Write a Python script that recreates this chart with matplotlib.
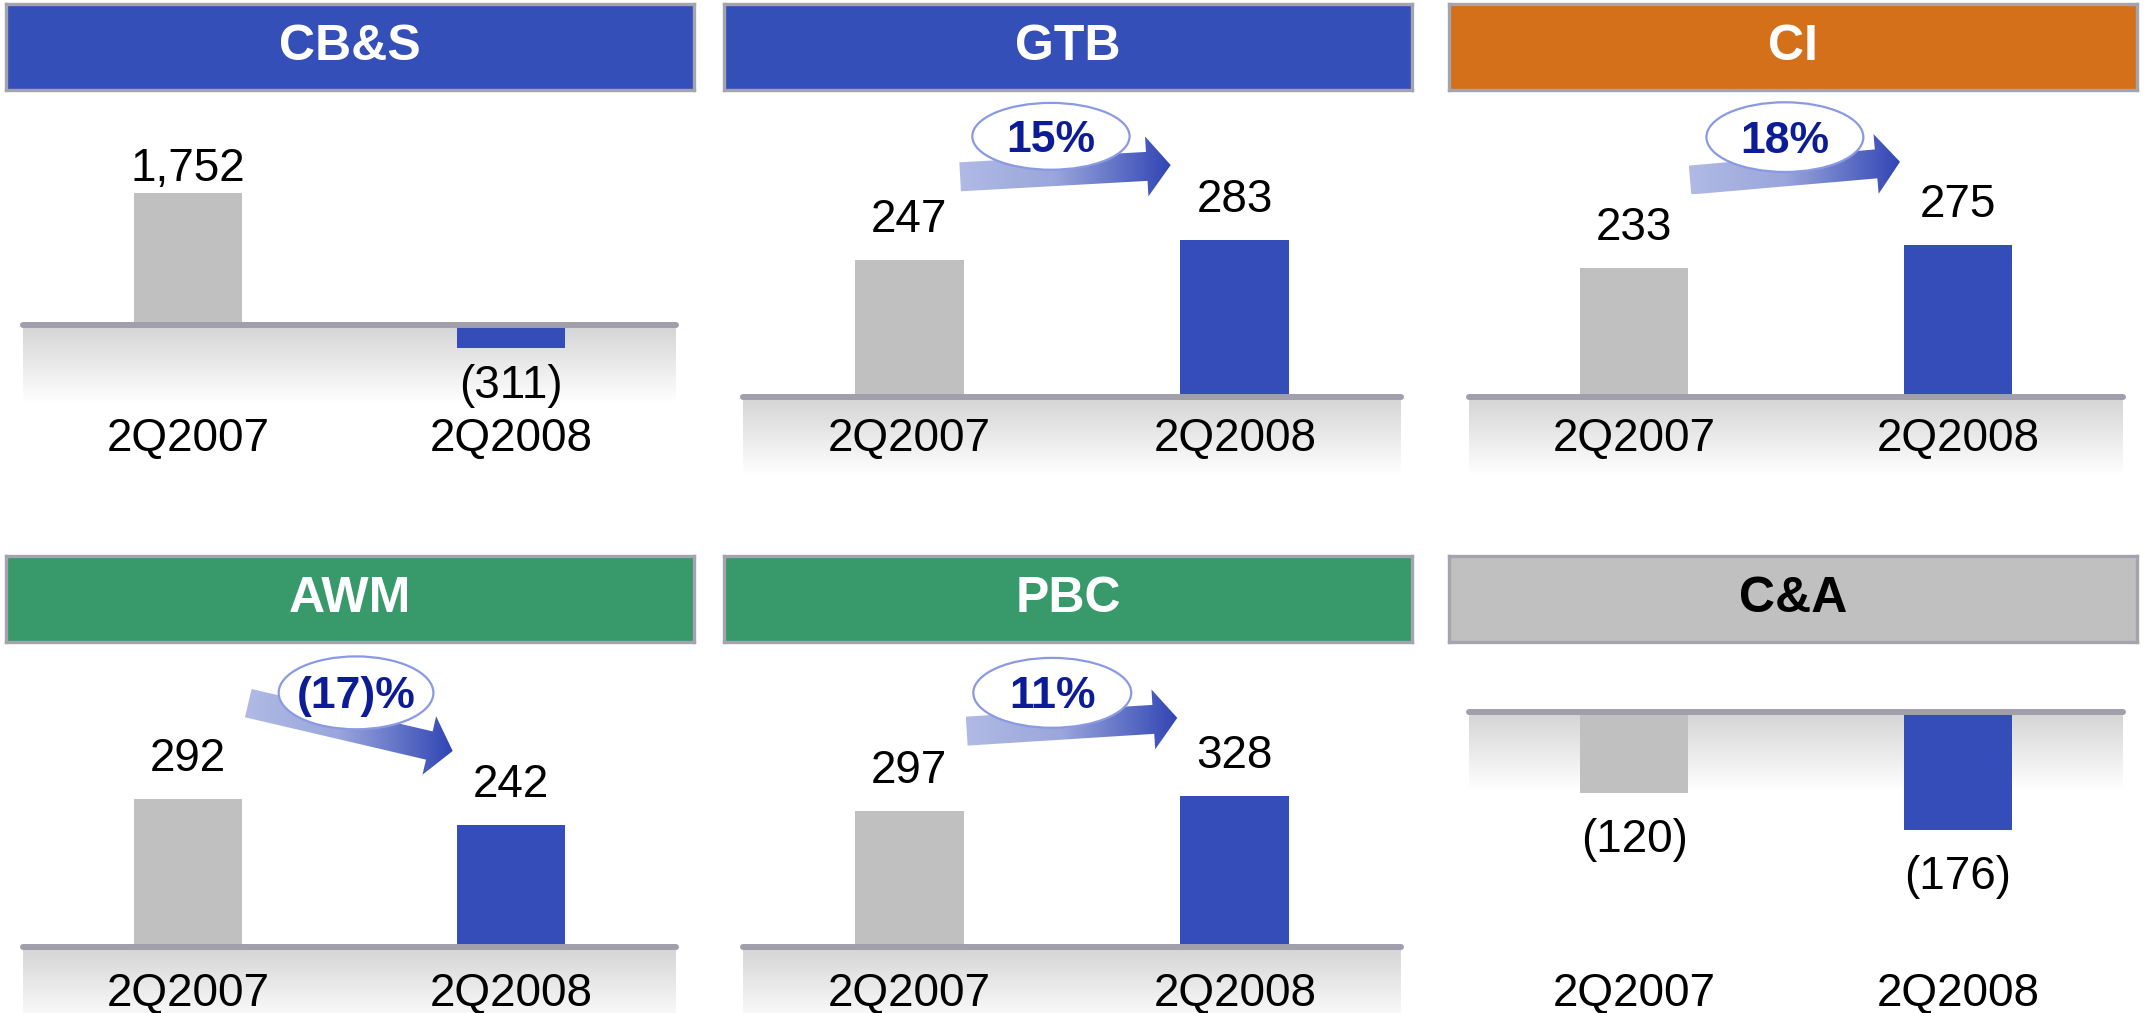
import matplotlib
matplotlib.use("Agg")
from matplotlib import pyplot as plt
from matplotlib.patches import Polygon, Ellipse
from matplotlib.colors import LinearSegmentedColormap
import matplotlib.transforms as mtransforms
import numpy as np

plt.rcParams['font.family'] = ['Liberation Sans', 'DejaVu Sans']

# income before taxes by segment, 2Q2007 vs 2Q2008
segments = ["CB&S", "GTB", "CI", "AWM", "PBC", "C&A"]
quarters = ["2Q2007", "2Q2008"]
q2_2007 = [1752, 247, 233, 292, 297, -120]
q2_2008 = [-311, 283, 275, 242, 328, -176]
changes = [None, "15%", "18%", "(17)%", "11%", None]

# colours
head_colors = ["#354FB9", "#354FB9", "#D4701A", "#389A6A", "#389A6A", "#C0C0C0"]
head_text = ["white", "white", "white", "white", "white", "black"]
bar_colors = ["#C0C0C0", "#344DB8"]
line_color = "#A09FAB"
pct_color = "#0C1C96"

# layout, in pixels of the 2149x1013 figure
W, H = 2149, 1013
col_x = [23, 743, 1469]
col_w = [653, 658, 654]
title_x = [6, 724, 1449]
title_w = 688
title_y = [4, 556]
title_h = 86
row_top = [95, 645]
row_bot = [500, 1013]
baseline_px = [325, 397, 397, 947, 947, 712]
px_per_unit = [0.0755, 0.555, 0.553, 0.506, 0.459, 0.672]
cat_px = [451, 1006]
pos_gap = [12, 28, 28, 28, 28, 28]
neg_gap = [50, 50, 50, 50, 50, 59]
# arrows in axes fraction: tail, tip, ellipse centre, ellipse size
arrows = {
    1: ((0.330, 0.798), (0.650, 0.827), (0.468, 0.898), (0.239, 0.165)),
    2: ((0.338, 0.790), (0.659, 0.835), (0.483, 0.896), (0.240, 0.172)),
    3: ((0.345, 0.842), (0.658, 0.712), (0.510, 0.870), (0.237, 0.198)),
    4: ((0.340, 0.766), (0.660, 0.802), (0.470, 0.870), (0.240, 0.190)),
}

XLO, XHI = -0.51, 1.51
BAR_W = 0.335
NUM_SIZE = 33

fade = LinearSegmentedColormap.from_list("fade", ["#D4D4D4", "#FFFFFF"])
arrow_cmap = LinearSegmentedColormap.from_list(
    "arr", [(0, "#B0BAE4"), (0.45, "#9AA6DC"), (1, "#3145B4")])


def px_axes(x, y, w, h):
    return fig.add_axes([x / W, 1 - (y + h) / H, w / W, h / H])


def draw_arrow(ax, axw, axh, tail, tip, ylo, yhi):
    t = np.array([tail[0] * axw, tail[1] * axh])
    p = np.array([tip[0] * axw, tip[1] * axh])
    u = (p - t) / np.linalg.norm(p - t)
    n = np.array([-u[1], u[0]])
    shaft, head, hlen = 14.5, 30, 24
    b = p - u * hlen
    pts = [t + n * shaft, b + n * shaft, b + n * head, p,
           b - n * head, b - n * shaft, t - n * shaft]
    pts = np.array(pts)
    # pixels -> data
    dx = XLO + pts[:, 0] / axw * (XHI - XLO)
    dy = ylo + pts[:, 1] / axh * (yhi - ylo)
    poly = Polygon(np.column_stack([dx, dy]), closed=True,
                   facecolor="none", edgecolor="none")
    ax.add_patch(poly)
    grad = np.linspace(0, 1, 256).reshape(1, -1)
    im = ax.imshow(grad, cmap=arrow_cmap, aspect="auto", zorder=4,
                   extent=(dx.min(), dx.max(), dy.min(), dy.max()))
    im.set_clip_path(poly)


fig = plt.figure(figsize=(W / 100, H / 100), dpi=100)

for i, seg in enumerate(segments):
    row, col = divmod(i, 3)

    # header bar
    hax = px_axes(title_x[col], title_y[row], title_w, title_h)
    hax.set_facecolor(head_colors[i])
    hax.set_xticks([])
    hax.set_yticks([])
    for sp in hax.spines.values():
        sp.set_color("#A4A4AE")
        sp.set_linewidth(2.4)
    hax.text(0.5, 0.5, seg, ha="center", va="center", fontsize=36,
             fontweight="bold", color=head_text[i], transform=hax.transAxes)

    # bars
    top, bot = row_top[row], row_bot[row]
    axw, axh = col_w[col], bot - top
    ax = px_axes(col_x[col], top, axw, axh)
    s = px_per_unit[i]
    ylo = -(bot - baseline_px[i]) / s
    yhi = (baseline_px[i] - top) / s

    ax.imshow(np.linspace(0, 1, 100).reshape(-1, 1), cmap=fade, aspect="auto",
              extent=(XLO, XHI, -78 / s, 0), zorder=0)

    vals = [q2_2007[i], q2_2008[i]]
    xs = np.arange(2)
    ax.bar(xs, vals, width=BAR_W, color=bar_colors, zorder=2)
    ax.plot([XLO, XHI], [0, 0], color=line_color, lw=4.3,
            solid_capstyle="round", clip_on=False, zorder=3)

    for x, v in zip(xs, vals):
        if v >= 0:
            txt = f"{v:,}"
            off = pos_gap[i] * 0.72
        else:
            txt = f"({-v:,})"
            off = -neg_gap[i] * 0.72
        ax.annotate(txt, (x, v), xytext=(0, off), textcoords="offset points",
                    ha="center", va="baseline", fontsize=NUM_SIZE, color="black")

    trans = mtransforms.blended_transform_factory(ax.transData, ax.transAxes)
    cy = (bot - cat_px[row]) / axh
    for x, q in zip(xs, quarters):
        ax.text(x, cy, q, transform=trans, ha="center", va="baseline",
                fontsize=NUM_SIZE, color="black", clip_on=False)

    if changes[i] is not None:
        tail, tip, ec, esz = arrows[i]
        draw_arrow(ax, axw, axh, tail, tip, ylo, yhi)
        ax.add_patch(Ellipse(ec, esz[0], esz[1], transform=ax.transAxes,
                             facecolor="white", edgecolor="#8A9AE2", lw=1.6,
                             zorder=5))
        ax.text(ec[0], ec[1] - 0.01, changes[i], transform=ax.transAxes,
                ha="center", va="center", fontsize=32, fontweight="bold",
                color=pct_color, zorder=6)

    ax.set_xlim(XLO, XHI)
    ax.set_ylim(ylo, yhi)
    ax.axis("off")

fig.savefig("out.png", dpi=100)
